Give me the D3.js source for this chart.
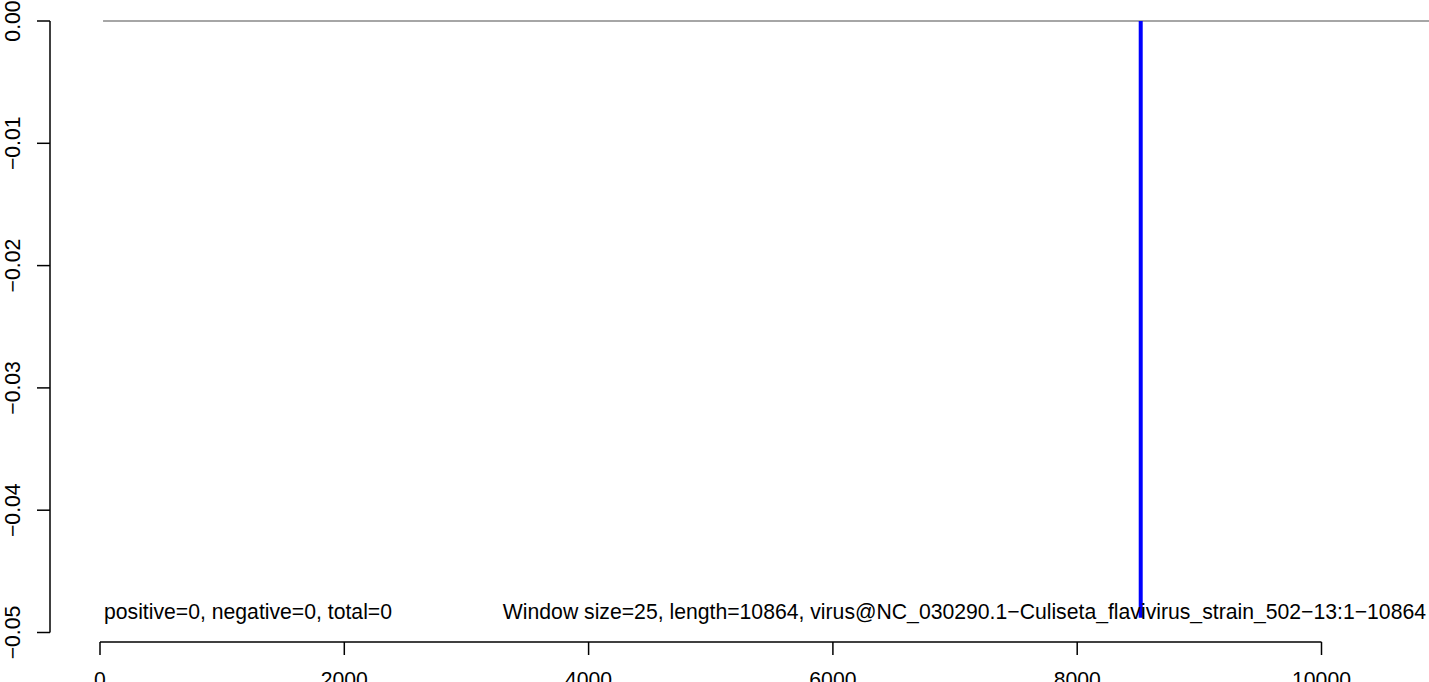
<!DOCTYPE html>
<html>
<head>
<meta charset="utf-8">
<script src="https://cdn.jsdelivr.net/npm/d3@7"></script>
<style>
  html, body { margin: 0; padding: 0; background: #fff; }
  svg { display: block; }
  text { font-family: "Liberation Sans", Arial, Helvetica, sans-serif; }
</style>
</head>
<body>
<svg id="chart" width="1429" height="682"></svg>
<script>
// ---- data ----
const xTicks = [0, 2000, 4000, 6000, 8000, 10000];
const yTicks = [0, -0.01, -0.02, -0.03, -0.04, -0.05];
const yTickLabels = ["0.00", "\u22120.01", "\u22120.02", "\u22120.03", "\u22120.04", "\u22120.05"];
const xTickLabels = ["0", "2000", "4000", "6000", "8000", "10000"];
const baselineX = [25, 10880];
const baselineY = [0, 0];
const spikePositions = [8520];
const spikeValues = [-0.0488];
const leftNote = "positive=0, negative=0, total=0";
const rightNote = "Window size=25, length=10864, virus@NC_030290.1\u2212Culiseta_flavivirus_strain_502\u221213:1\u221210864";
const noteY = -0.04887;

// ---- scales ----
const svg = d3.select("#chart");
const x = d3.scaleLinear().domain([0, 10000]).range([100, 1321.5]);
const y = d3.scaleLinear().domain([-0.05, 0]).range([632.5, 21]);
const FS = 21.2;
const AXW = 1.5;

// baseline (gray)
svg.append("path")
  .datum(baselineX.map((v, i) => [v, baselineY[i]]))
  .attr("fill", "none")
  .attr("stroke", "#888")
  .attr("stroke-width", 1.4)
  .attr("d", d3.line().x(d => x(d[0])).y(d => y(d[1])));

// spikes (blue)
svg.selectAll("line.spike")
  .data(spikePositions.map((p, i) => ({p, v: spikeValues[i]})))
  .enter().append("line")
  .attr("class", "spike")
  .attr("x1", d => x(d.p)).attr("x2", d => x(d.p))
  .attr("y1", y(0)).attr("y2", d => y(d.v))
  .attr("stroke", "#0000ff")
  .attr("stroke-width", 4);

// notes
svg.append("text")
  .attr("x", 104).attr("y", y(noteY))
  .attr("font-size", FS)
  .text(leftNote);
svg.append("text")
  .attr("x", 1426).attr("y", y(noteY))
  .attr("text-anchor", "end")
  .attr("font-size", FS)
  .text(rightNote);

// y axis (R style)
const yAxisG = svg.append("g");
yAxisG.append("line")
  .attr("x1", 50).attr("x2", 50)
  .attr("y1", y(0)).attr("y2", y(-0.05))
  .attr("stroke", "#000").attr("stroke-width", AXW);
yAxisG.selectAll("line.tick")
  .data(yTicks).enter().append("line")
  .attr("x1", 37).attr("x2", 50)
  .attr("y1", d => y(d)).attr("y2", d => y(d))
  .attr("stroke", "#000").attr("stroke-width", AXW);
yAxisG.selectAll("text")
  .data(yTicks).enter().append("text")
  .attr("transform", d => `translate(20,${y(d)}) rotate(-90)`)
  .attr("text-anchor", "middle")
  .attr("font-size", FS)
  .text((d, i) => yTickLabels[i]);

// x axis (R style)
const xAxisG = svg.append("g");
xAxisG.append("line")
  .attr("x1", x(0)).attr("x2", x(10000))
  .attr("y1", 642).attr("y2", 642)
  .attr("stroke", "#000").attr("stroke-width", AXW);
xAxisG.selectAll("line.tick")
  .data(xTicks).enter().append("line")
  .attr("x1", d => x(d)).attr("x2", d => x(d))
  .attr("y1", 642).attr("y2", 655)
  .attr("stroke", "#000").attr("stroke-width", AXW);
xAxisG.selectAll("text")
  .data(xTicks).enter().append("text")
  .attr("x", d => x(d)).attr("y", 686.5)
  .attr("text-anchor", "middle")
  .attr("font-size", FS)
  .text((d, i) => xTickLabels[i]);
</script>
</body>
</html>
